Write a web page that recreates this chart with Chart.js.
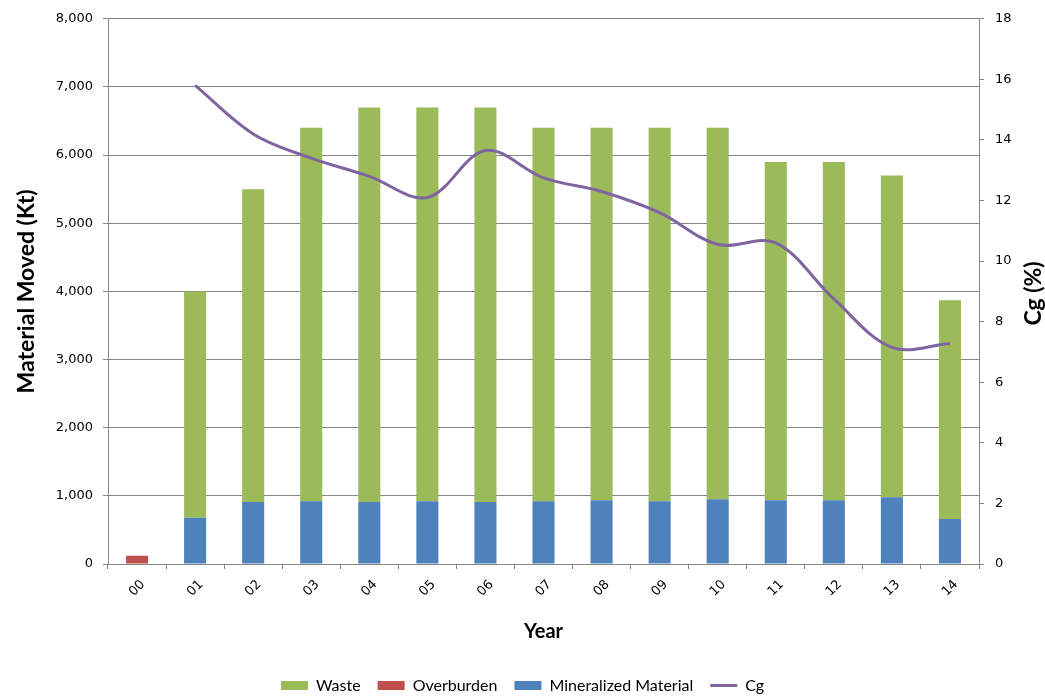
<!DOCTYPE html>
<html>
<head>
<meta charset="utf-8">
<script src="https://cdn.jsdelivr.net/npm/chart.js@4/dist/chart.umd.min.js"></script>
<style>
  html, body { margin: 0; padding: 0; background: #ffffff; }
  #wrap { width: 1045px; height: 697px; }
</style>
</head>
<body>
<div id="wrap"><canvas id="chart" width="1045" height="697"></canvas></div>
<script>
// Annual material movement (Kt) by type, with Cg grade (%)
const years = ['00', '01', '02', '03', '04', '05', '06', '07', '08', '09', '10', '11', '12', '13', '14'];
const mineralized = [null, 680, 910, 920, 910, 920, 910, 920, 935, 920, 950, 935, 935, 980, 660];
const overburden  = [120, null, null, null, null, null, null, null, null, null, null, null, null, null, null];
const waste       = [null, 3320, 4590, 5480, 5790, 5780, 5790, 5480, 5465, 5480, 5450, 4965, 4965, 4720, 3210];
const cgGrade     = [null, 15.8, 14.2, 13.4, 12.8, 12.1, 13.65, 12.75, 12.3, 11.6, 10.55, 10.6, 8.75, 7.15, 7.28];

const legendOrder = ['Waste', 'Overburden', 'Mineralized Material', 'Cg'];
const axisGray = '#868686';

Chart.defaults.font.family = 'DejaVu Sans';
Chart.defaults.color = '#000';

const whiteBackground = {
  id: 'whiteBackground',
  beforeDraw(chart) {
    const c = chart.ctx;
    c.save();
    c.fillStyle = '#ffffff';
    c.fillRect(0, 0, chart.width, chart.height);
    c.restore();
  }
};

// Secondary axis title, reading bottom to top
const cgAxisTitle = {
  id: 'cgAxisTitle',
  afterDraw(chart) {
    const c = chart.ctx;
    const area = chart.chartArea;
    c.save();
    c.translate(1034, (area.top + area.bottom) / 2 + 2);
    c.rotate(-Math.PI / 2);
    c.font = 'bold 23px Lato';
    c.fillStyle = '#000';
    c.textAlign = 'center';
    c.textBaseline = 'middle';
    c.fillText('Cg (%)', 0, 0);
    c.restore();
  }
};

new Chart(document.getElementById('chart'), {
  type: 'bar',
  data: {
    labels: years,
    datasets: [
      { label: 'Mineralized Material', data: mineralized, backgroundColor: '#4F81BD', yAxisID: 'y', pointStyle: 'rect' },
      { label: 'Overburden', data: overburden, backgroundColor: '#C0504D', yAxisID: 'y', pointStyle: 'rect' },
      { label: 'Waste', data: waste, backgroundColor: '#9BBB59', yAxisID: 'y', pointStyle: 'rect' },
      {
        type: 'line', label: 'Cg', data: cgGrade, yAxisID: 'y1', order: -1,
        borderColor: '#8064A2', backgroundColor: '#8064A2', borderWidth: 3,
        pointRadius: 0, pointStyle: 'line', tension: 0.35, fill: false
      }
    ]
  },
  options: {
    responsive: false,
    animation: false,
    layout: { padding: { top: 17, bottom: -6.5, left: 0, right: 0 } },
    datasets: { bar: { barPercentage: 0.38, categoryPercentage: 1 } },
    scales: {
      x: {
        stacked: true,
        grid: { drawOnChartArea: false, tickLength: 5, color: axisGray },
        border: { color: axisGray },
        ticks: { minRotation: 45, maxRotation: 45, padding: 8, labelOffset: 6, font: { size: 13 } },
        title: { display: true, text: 'Year', color: '#000', font: { family: 'Lato', weight: 'bold', size: 20 }, padding: { top: 0, bottom: 16.5 } },
        afterFit(scale) { scale.height = 96.5; }
      },
      y: {
        stacked: true,
        position: 'left',
        min: 0, max: 8000,
        ticks: { stepSize: 1000, padding: 10, font: { size: 13 }, callback: v => v.toLocaleString('en-US') },
        grid: { color: axisGray, tickLength: 5 },
        border: { color: axisGray },
        title: { display: true, text: 'Material Moved (Kt)', color: '#000', font: { family: 'Lato', weight: 'bold', size: 23 }, padding: { top: 13, bottom: 0 } },
        afterFit(scale) { scale.width = 108; }
      },
      y1: {
        position: 'right',
        min: 0, max: 18,
        ticks: { stepSize: 2, padding: 11, font: { size: 13 } },
        grid: { drawOnChartArea: false, tickLength: 5, color: axisGray },
        border: { color: axisGray },
        afterFit(scale) { scale.width = 66; }
      }
    },
    plugins: {
      legend: {
        position: 'bottom',
        labels: {
          usePointStyle: true,
          pointStyleWidth: 27,
          boxHeight: 9,
          padding: 17,
          color: '#000',
          font: { family: 'Lato', size: 16 },
          sort: (a, b) => legendOrder.indexOf(a.text) - legendOrder.indexOf(b.text)
        }
      },
      tooltip: { enabled: false }
    }
  },
  plugins: [whiteBackground, cgAxisTitle]
});
</script>
</body>
</html>
